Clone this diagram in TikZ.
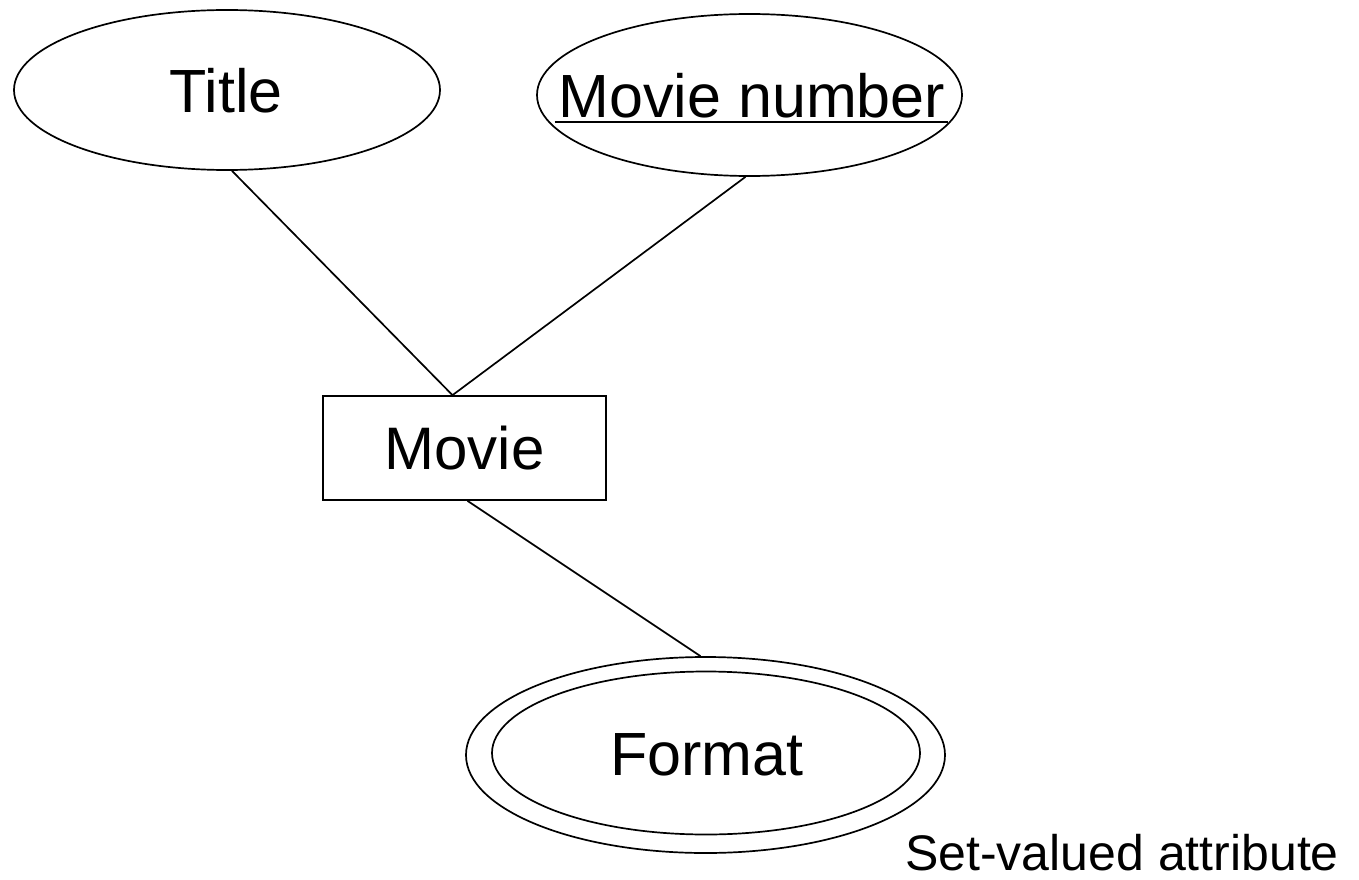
\documentclass[tikz,border=0pt]{standalone}
\usepackage{fontspec}
\setmainfont{Liberation Sans}
\usetikzlibrary{shapes.geometric}
\begin{document}
\begin{tikzpicture}[x=1pt,y=-1pt,
  lw/.style={line width=1.7pt},
  attr/.style={ellipse,draw,lw,inner sep=0pt},
  txt/.style={inner sep=0pt,font=\fontsize{61}{70}\selectfont},
  ent/.style={rectangle,draw,lw,inner sep=0pt,minimum width=283pt,minimum height=104pt,font=\fontsize{60}{70}\selectfont},
  conn/.style={lw}]
\useasboundingbox (0,0) rectangle (1359,880);
\node[attr,minimum width=426pt,minimum height=160pt] (title) at (227,90) {};
\node[txt] (titletext) at (226,91) {Title};
\node[attr,minimum width=425pt,minimum height=162pt] (mnum) at (749.5,95) {};
\node[txt] (mnumtext) at (752,96) {Movie number};
\draw[lw] ([shift={(-195,27)}]mnum.center) -- ([shift={(198,27)}]mnum.center);
\node[ent] (movie) at (464.5,448) {Movie};
\node[attr,minimum width=479pt,minimum height=196pt] (fmt) at (705.5,755) {};
\node[attr,minimum width=428pt,minimum height=163pt] (fmtin) at (706,753) {};
\node[txt] (fmttext) at (707,755) {Format};
\node[anchor=base west,inner sep=0pt,font=\fontsize{50}{58}\selectfont] (lbl) at (905,870) {Set-valued attribute};
\draw[conn] ([xshift=5pt]title.south) -- ([xshift=-12pt]movie.north);
\draw[conn] ([xshift=-4pt]mnum.south) -- ([xshift=-12pt]movie.north);
\draw[conn] ([xshift=3pt]movie.south) -- ([xshift=-5pt]fmt.north);
\end{tikzpicture}
\end{document}
